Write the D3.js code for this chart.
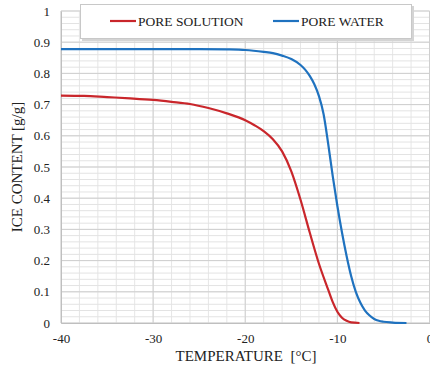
<!DOCTYPE html>
<html>
<head>
<meta charset="utf-8">
<script src="https://cdn.jsdelivr.net/npm/d3@7"></script>
<style>
  body { margin: 0; background: #fff; }
  svg { display: block; }
  svg text { font-family: "Liberation Serif", "Times New Roman", "DejaVu Serif", serif; }
</style>
</head>
<body>
<div id="chart"></div>
<script>
// temperatures (°C) and ice content (g/g)
const solutionTemp = [-40, -37.5, -35, -32.5, -30, -28, -26, -24, -22, -20, -19, -18, -17, -16, -15, -14, -13, -12, -11, -10.5, -10, -9.5, -9, -8.5, -7.6];
const solutionIce  = [0.729, 0.728, 0.724, 0.72, 0.715, 0.709, 0.702, 0.689, 0.672, 0.65, 0.634, 0.615, 0.589, 0.55, 0.486, 0.395, 0.29, 0.19, 0.107, 0.067, 0.036, 0.017, 0.007, 0.002, 0.0];

const waterTemp = [-40, -30, -25, -22, -20, -18, -17, -16, -15, -14, -13.5, -13, -12.5, -12, -11.5, -11, -10.5, -10, -9.5, -9, -8.5, -8, -7.5, -7, -6.5, -6, -5.5, -5, -4, -2.5];
const waterIce  = [0.878, 0.878, 0.878, 0.877, 0.875, 0.869, 0.865, 0.857, 0.846, 0.827, 0.812, 0.792, 0.765, 0.727, 0.67, 0.575, 0.47, 0.375, 0.29, 0.215, 0.15, 0.1, 0.065, 0.04, 0.024, 0.013, 0.007, 0.004, 0.0015, 0.0];

const seriesNames = ["PORE SOLUTION", "PORE WATER"];
const seriesColors = ["#c9262b", "#1f72bf"];

const xTicks = [-40, -30, -20, -10, 0];
const yTicks = [0, 0.1, 0.2, 0.3, 0.4, 0.5, 0.6, 0.7, 0.8, 0.9, 1];

const FONT = "Liberation Serif, Times New Roman, serif";

const W = 430, H = 368;
const margin = { top: 11, right: 0.5, bottom: 45, left: 61 };
const width = W - margin.left - margin.right,
      height = H - margin.top - margin.bottom;

const svg = d3.select("#chart").append("svg")
    .attr("width", W)
    .attr("height", H)
    .attr("font-family", FONT);

const g = svg.append("g")
    .attr("transform", "translate(" + margin.left + "," + margin.top + ")");

const x = d3.scaleLinear().domain([-40, 0]).range([0, width]);
const y = d3.scaleLinear().domain([0, 1]).range([height, 0]);

// minor grid
g.append("g")
    .selectAll("line")
    .data(d3.range(-40, 0.01, 2))
    .enter().append("line")
    .attr("x1", d => x(d)).attr("x2", d => x(d))
    .attr("y1", 0).attr("y2", height)
    .attr("stroke", "#e6e6e6");
g.append("g")
    .selectAll("line")
    .data(d3.range(0, 1.001, 0.02))
    .enter().append("line")
    .attr("x1", 0).attr("x2", width)
    .attr("y1", d => y(d)).attr("y2", d => y(d))
    .attr("stroke", "#e3e3e3");

// major grid
g.append("g")
    .selectAll("line")
    .data(xTicks)
    .enter().append("line")
    .attr("x1", d => x(d)).attr("x2", d => x(d))
    .attr("y1", 0).attr("y2", height)
    .attr("stroke", "#cfcfcf");
g.append("g")
    .selectAll("line")
    .data(yTicks)
    .enter().append("line")
    .attr("x1", 0).attr("x2", width)
    .attr("y1", d => y(d)).attr("y2", d => y(d))
    .attr("stroke", "#cfcfcf");

// axes
const xAxis = g.append("g")
    .attr("transform", "translate(0," + height + ")")
    .call(d3.axisBottom(x).tickValues(xTicks).tickSize(0).tickPadding(11)
      .tickFormat(d => String(d)));
xAxis.attr("font-family", FONT).attr("font-size", 13);
xAxis.select(".domain").attr("stroke", "#bfbfbf");
xAxis.selectAll("text").attr("fill", "#222");

const yAxis = g.append("g")
    .call(d3.axisLeft(y).tickValues(yTicks).tickSize(0).tickPadding(11)
      .tickFormat(d => String(+d.toFixed(1))));
yAxis.attr("font-family", FONT).attr("font-size", 13);
yAxis.select(".domain").attr("stroke", "#bfbfbf");
yAxis.selectAll("text").attr("fill", "#222");

// curves
const line = d3.line()
    .x(d => x(d[0]))
    .y(d => y(d[1]))
    .curve(d3.curveMonotoneX);

const series = [
  d3.zip(solutionTemp, solutionIce),
  d3.zip(waterTemp, waterIce)
];

g.selectAll(".series")
    .data(series)
    .enter().append("path")
    .attr("class", "series")
    .attr("d", line)
    .attr("fill", "none")
    .attr("stroke", (d, i) => seriesColors[i])
    .attr("stroke-width", 2.2);

// legend
const legend = svg.append("g");
legend.append("rect")
    .attr("x", 82).attr("y", 6).attr("width", 332).attr("height", 35)
    .attr("fill", "#d4d4d4");
legend.append("rect")
    .attr("x", 80.5).attr("y", 4.5).attr("width", 331).attr("height", 34)
    .attr("fill", "#fff").attr("stroke", "#c8c8c8");

const legendX = [110, 273];
seriesNames.forEach((name, i) => {
  legend.append("line")
      .attr("x1", legendX[i]).attr("x2", legendX[i] + 26)
      .attr("y1", 21).attr("y2", 21)
      .attr("stroke", seriesColors[i]).attr("stroke-width", 2.2);
  legend.append("text")
      .attr("x", legendX[i] + 28).attr("y", 26)
      .attr("font-size", 13.5).attr("fill", "#222")
      .text(name);
});

// axis titles
svg.append("text")
    .attr("x", 246).attr("y", 361)
    .attr("text-anchor", "middle")
    .attr("font-size", 15).attr("fill", "#222")
    .attr("xml:space", "preserve")
    .text("TEMPERATURE  [°C]");

svg.append("text")
    .attr("transform", "translate(22," + (margin.top + height / 2) + ") rotate(-90)")
    .attr("text-anchor", "middle")
    .attr("font-size", 15).attr("fill", "#222")
    .text("ICE CONTENT [g/g]");
</script>
</body>
</html>
